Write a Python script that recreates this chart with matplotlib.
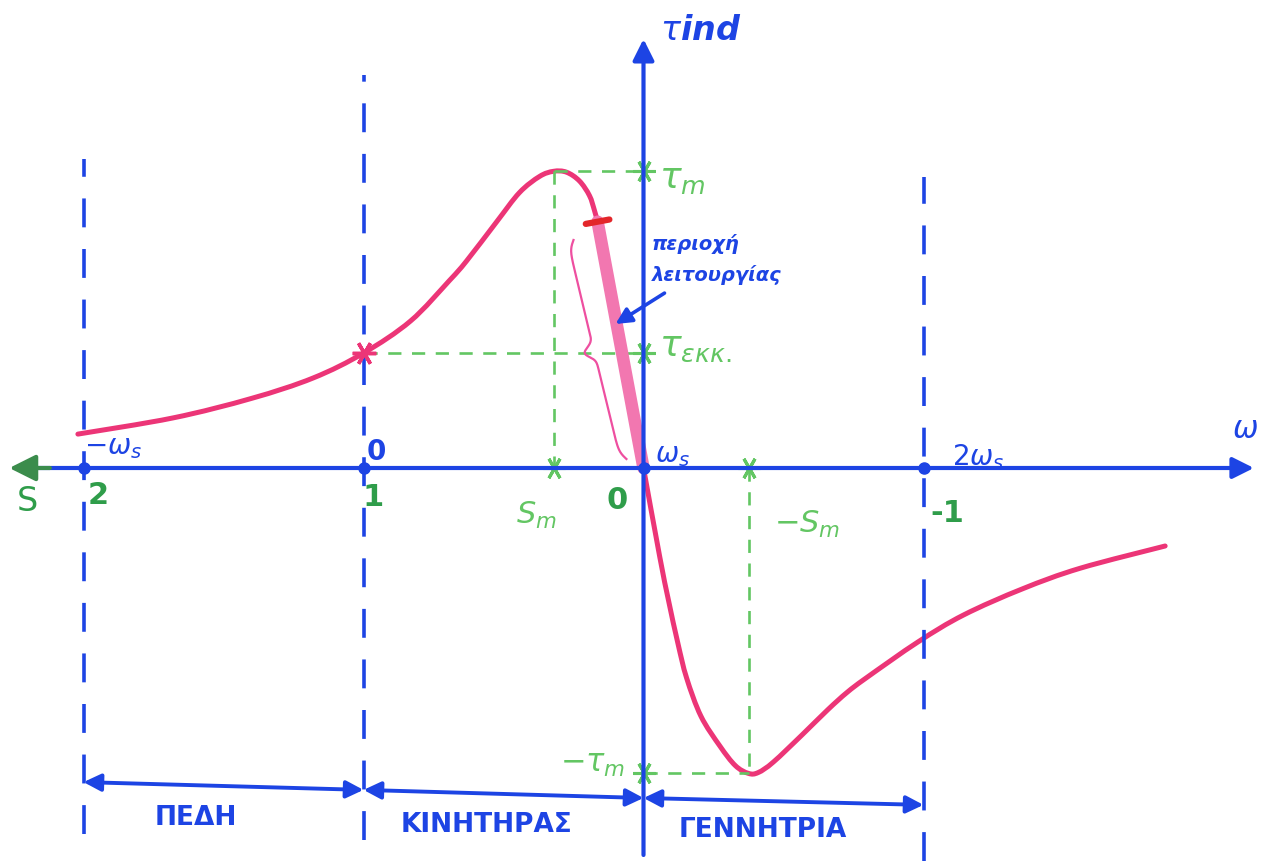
import numpy as np
import matplotlib
matplotlib.use('Agg')
import matplotlib.pyplot as plt
from matplotlib import font_manager
from matplotlib.path import Path
from matplotlib.patches import PathPatch

# speed in units of the synchronous speed ws, torque in units of the pull-out torque
omega = [-1.02, -0.68, -0.40, -0.18, 0.0, 0.168, 0.307, 0.368, 0.475, 0.557, 0.629,
         0.679, 0.725, 0.771, 0.807, 0.825, 0.836, 1.0, 1.058, 1.089, 1.123, 1.154,
         1.205, 1.273, 1.328, 1.375, 1.41, 1.464, 1.567, 1.659, 1.727, 1.795, 1.98,
         2.143, 2.353, 2.56, 2.863]
tau = [0.113, 0.167, 0.232, 0.300, 0.383, 0.490, 0.625, 0.690, 0.820, 0.918, 0.972,
       0.989, 0.986, 0.957, 0.908, 0.858, 0.821, 0.0, -0.296, -0.440, -0.585, -0.700,
       -0.827, -0.927, -0.992, -1.018, -1.015, -0.980, -0.889, -0.805, -0.748, -0.700, -0.580,
       -0.490, -0.403, -0.334, -0.260]

# operating region = last stretch of the curve before ws
op_start = 0.836

# region boundaries (speed) with their tick labels
bounds = [-1, 0, 1, 2]
speed_labels = [r'$-\omega_s$', '0', r'$\omega_s$', r'$2\omega_s$']
slip_labels = ['2', '1', '0', '-1']
regions = ['ΠΕΔΗ', 'ΚΙΝΗΤΗΡΑΣ', 'ΓΕΝΝΗΤΡΙΑ']

# dashed boundary lines: (speed, top, bottom)
dash_lines = [(-1, 1.03, -1.22), (0, 1.31, -1.24), (2, 0.97, -1.31)]
# double arrows under the curve: heights at each boundary
region_arrow_y = [-1.047, -1.073, -1.10, -1.123]

PX_W, PX_T = 280.0, 300.0   # pixels per unit of speed / torque
X0, Y0 = 363.5, 468.0       # pixel position of the origin (w=0, T=0)
W, H = 1277, 864

BLUE = '#1d44e4'
PINK = '#ec3577'
LPINK = '#f277b0'
GREEN = '#63c663'
DGREEN = '#2f9d4a'
RED = '#e3262a'

names = {f.name for f in font_manager.fontManager.ttflist}
narrow = 'Liberation Sans Narrow' if 'Liberation Sans Narrow' in names else 'DejaVu Sans'
plt.rcParams['mathtext.fontset'] = 'dejavusans'


def spline_verts(xs, ys):
    # Catmull-Rom through the points, as cubic Bezier segments (pixel scaled)
    pts = np.column_stack([np.asarray(xs) * PX_W, np.asarray(ys) * PX_T])
    verts = []
    for i in range(len(pts) - 1):
        p0 = pts[i - 1] if i > 0 else pts[i]
        p1, p2 = pts[i], pts[i + 1]
        p3 = pts[i + 2] if i + 2 < len(pts) else pts[i + 1]
        verts += [p1 + (p2 - p0) / 6, p2 - (p3 - p1) / 6, p2]
    return [v / [PX_W, PX_T] for v in verts]


fig = plt.figure(figsize=(W / 100, H / 100), dpi=100)
ax = fig.add_axes([0, 0, 1, 1])
ax.set_xlim(-X0 / PX_W, (W - X0) / PX_W)
ax.set_ylim(-(H - Y0) / PX_T, Y0 / PX_T)
ax.axis('off')

# dashed region boundaries
for w0, top, bot in dash_lines:
    ax.plot([w0, w0], [bot, top], color=BLUE, lw=2.6, dashes=(8, 6))

# axes with arrows
ax.annotate('', xy=(3.18, 0), xytext=(-1.2, 0),
            arrowprops=dict(arrowstyle='-|>', color=BLUE, lw=3, mutation_scale=32,
                            shrinkA=0, shrinkB=0))
ax.annotate('', xy=(1, 1.43), xytext=(1, -1.29),
            arrowprops=dict(arrowstyle='-|>', color=BLUE, lw=3, mutation_scale=32,
                            shrinkA=0, shrinkB=0))
ax.annotate('', xy=(-1.265, 0), xytext=(-1.12, 0),
            arrowprops=dict(arrowstyle='-|>', color='#3b8c4c', lw=3, mutation_scale=40,
                            shrinkA=0, shrinkB=0))

# torque-speed curve
w_arr = np.array(omega)
t_arr = np.array(tau)
i_pk = int(np.argmax(t_arr))
i_mn = int(np.argmin(t_arr))
w_pk, t_pk = w_arr[i_pk], t_arr[i_pk]
w_mn, t_mn = w_arr[i_mn], t_arr[i_mn]
t_start = t_arr[w_arr == 0][0]

# helper lines for Tm, Tstart, sm, -sm, -Tm
gk = dict(color=GREEN, lw=1.9, dashes=(5, 4))
ax.plot([w_pk, 1], [t_pk, t_pk], **gk)
ax.plot([w_pk, w_pk], [t_pk, 0], **gk)
ax.plot([0, 1], [t_start, t_start], **gk)
ax.plot([w_mn, w_mn], [0, t_mn], **gk)
ax.plot([1, w_mn], [t_mn, t_mn], **gk)
star = (6, 2, 90)
ax.plot([1, 1, w_pk, w_mn, 1], [t_pk, t_start, 0, 0, t_mn], ls='none',
        marker=star, ms=16, mec=GREEN, mew=2.2)

# operating region drawn heavier
op = (w_arr >= op_start) & (w_arr <= 1)
ax.plot(w_arr[op], t_arr[op], color=LPINK, lw=9, solid_capstyle='round')

# curve: smooth up to the operating region, straight through it, smooth after ws
left = w_arr <= op_start
right = w_arr >= 1
verts = [(w_arr[0], t_arr[0])] + spline_verts(w_arr[left], t_arr[left])
codes = [Path.MOVETO] + [Path.CURVE4] * (len(verts) - 1)
verts.append((1.0, 0.0))
codes.append(Path.LINETO)
rv = spline_verts(w_arr[right], t_arr[right])
verts += rv
codes += [Path.CURVE4] * len(rv)
ax.add_patch(PathPatch(Path(np.array(verts, dtype=float), codes), fill=False,
                       edgecolor=PINK, lw=3.6, capstyle='round', joinstyle='round'))
ax.plot([0], [t_start], ls='none', marker=star, ms=17, mec=PINK, mew=2.5)

# red tick across the start of the operating region
i_op = int(np.argmax(w_arr >= op_start))
dx = (w_arr[i_op + 1] - w_arr[i_op]) * PX_W
dy = (t_arr[i_op + 1] - t_arr[i_op]) * PX_T
n = np.hypot(dx, dy)
px, py = -dy / n * 12, dx / n * 12
ax.plot([w_arr[i_op] - px / PX_W, w_arr[i_op] + px / PX_W],
        [t_arr[i_op] - py / PX_T, t_arr[i_op] + py / PX_T],
        color=RED, lw=4.5, solid_capstyle='round')


def brace(p0, p1, w, color):
    # curly brace between two points, nub pointing away to the left
    x0, y0 = p0[0] * PX_W, p0[1] * PX_T
    x1, y1 = p1[0] * PX_W, p1[1] * PX_T
    L = np.hypot(x1 - x0, y1 - y0)
    ux, uy = (x1 - x0) / L, (y1 - y0) / L
    nx, ny = uy, -ux
    u = np.linspace(0, L, 300)
    v = w * (np.tanh(u / 9) + np.tanh((L - u) / 9) - 1) + 1.6 * w * np.exp(-((u - L / 2) / 7) ** 2)
    ax.plot((x0 + ux * u + nx * v) / PX_W, (y0 + uy * u + ny * v) / PX_T,
            color=color, lw=1.6)


brace((0.75, 0.76), (0.939, 0.03), 6, '#ee4fa0')

# pointer to the operating region
ax.annotate('', xy=(0.9, 0.48), xytext=(1.075, 0.583),
            arrowprops=dict(arrowstyle='-|>', color=BLUE, lw=2.6, mutation_scale=24,
                            shrinkA=0, shrinkB=0))
ax.text(1.03, 0.745, 'περιοχή', color=BLUE, fontsize=14, fontweight='bold',
        fontstyle='italic', ha='left', va='center')
ax.text(1.03, 0.643, 'λειτουργίας', color=BLUE, fontsize=14, fontweight='bold',
        fontstyle='italic', ha='left', va='center')

# boundary dots and labels on the speed axis
ax.plot(bounds, [0] * len(bounds), 'o', color=BLUE, ms=8)
speed_pos = [(-0.895, 0.07), (0.045, 0.053), (1.105, 0.043), (2.195, 0.037)]
for lab, (x, y) in zip(speed_labels, speed_pos):
    ax.text(x, y, lab, color=BLUE, fontsize=20, fontweight='bold', ha='center', va='center')
slip_pos = [(-0.948, -0.09), (0.034, -0.097), (0.905, -0.107), (2.084, -0.15)]
for lab, (x, y) in zip(slip_labels, slip_pos):
    ax.text(x, y, lab, color=DGREEN, fontsize=22, fontweight='bold', ha='center', va='center')

ax.text(3.148, 0.127, r'$\omega$', color=BLUE, fontsize=22, ha='center', va='center')
ax.text(-1.2, -0.113, 'S', color=DGREEN, fontsize=24, ha='center', va='center')
ax.text(1.06, 1.46, r'$\tau$ind', color=BLUE, fontsize=24, fontstyle='italic',
        fontweight='bold', ha='left', va='center')
ax.text(1.055, t_pk - 0.025, r'$\tau_m$', color=GREEN, fontsize=26, ha='left', va='center')
ax.text(1.055, t_start + 0.02, r'$\tau_{\varepsilon\kappa\kappa.}$', color=GREEN, fontsize=26,
        ha='left', va='center')
ax.text(0.935, t_mn + 0.03, r'$-\tau_m$', color=GREEN, fontsize=22, ha='right', va='center')
ax.text(w_pk - 0.06, -0.157, r'$S_m$', color=GREEN, fontsize=22, ha='center', va='center')
ax.text(w_mn + 0.21, -0.187, r'$-S_m$', color=GREEN, fontsize=22, ha='center', va='center')

# operating modes along the bottom
for i, lab in enumerate(regions):
    ax.annotate('', xy=(bounds[i + 1], region_arrow_y[i + 1]), xytext=(bounds[i], region_arrow_y[i]),
                arrowprops=dict(arrowstyle='<|-|>', color=BLUE, lw=2.8, mutation_scale=26,
                                shrinkA=0, shrinkB=0))
region_pos = [(-0.598, -1.167), (0.441, -1.19), (1.427, -1.207)]
for lab, (x, y) in zip(regions, region_pos):
    ax.text(x, y, lab, color=BLUE, fontsize=19, fontweight='bold', family=narrow,
            ha='center', va='center')

fig.savefig('out.png', dpi=100, facecolor='white')
